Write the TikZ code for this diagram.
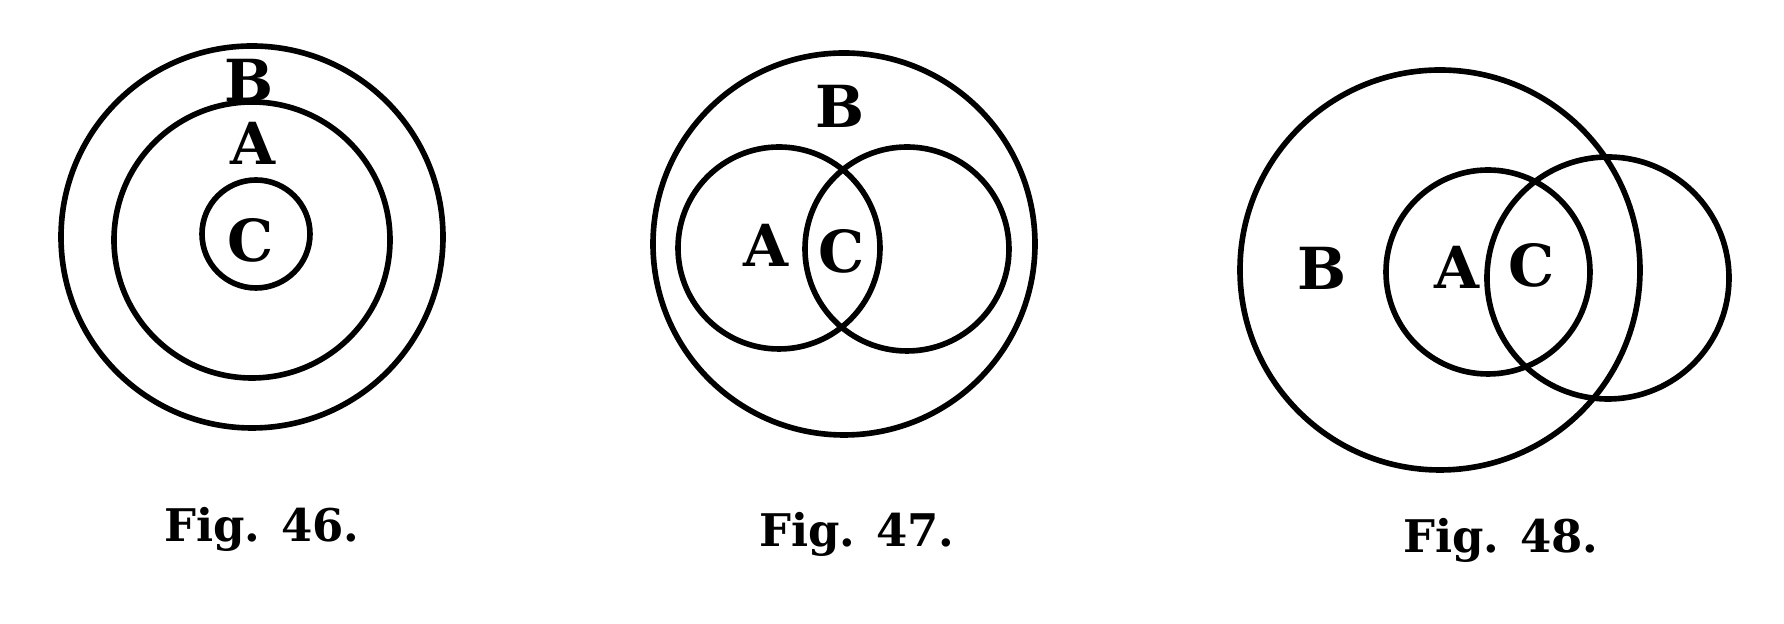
\documentclass[tikz,border=0pt]{standalone}
\usepackage{fontspec}
\newfontfamily\clarfont{DejaVu Serif}
\begin{document}
\tikzset{
  ring/.style={line width=1.6pt, line cap=round},
  lbl/.style={font=\clarfont\bfseries\fontsize{16.5}{16.5}\selectfont, inner sep=0pt},
  figcap/.style={font=\clarfont\bfseries\fontsize{12.8}{12.8}\selectfont, inner sep=0pt, anchor=base}
}
\begin{tikzpicture}[x=0.1mm,y=-0.1mm]
\useasboundingbox (0,0) rectangle (1784,624);
% ---------- Fig. 46 ----------
\coordinate (o46) at (252,237);
\coordinate (m46) at (252,240);
\coordinate (s46) at (256,234);
\draw[ring] (o46) circle[radius=191];
\draw[ring] (m46) circle[radius=138];
\draw[ring] (s46) circle[radius=54];
\node[lbl] (B46) at (249,80) {B};
\node[lbl] (A46) at (253,143) {A};
\node[lbl] (C46) at (251,240) {C};
\node[figcap] (F46) at (262,542) {Fig. 46.};
% ---------- Fig. 47 ----------
\coordinate (o47) at (844,244);
\coordinate (l47) at (779,248);
\coordinate (r47) at (907,249);
\draw[ring] (o47) circle[radius=191];
\draw[ring] (l47) circle[radius=101];
\draw[ring] (r47) circle[radius=102];
\node[lbl] (B47) at (840,106) {B};
\node[lbl] (A47) at (766,245) {A};
\node[lbl] (C47) at (842,251) {C};
\node[figcap] (F47) at (857,547) {Fig. 47.};
% ---------- Fig. 48 ----------
\coordinate (o48) at (1440,270);
\coordinate (l48) at (1488,272);
\coordinate (r48) at (1608,278);
\draw[ring] (o48) circle[radius=200];
\draw[ring] (l48) circle[radius=102];
\draw[ring] (r48) circle[radius=121];
\node[lbl] (B48) at (1322,268) {B};
\node[lbl] (A48) at (1457,267) {A};
\node[lbl] (C48) at (1532,265) {C};
\node[figcap] (F48) at (1501,553) {Fig. 48.};
\end{tikzpicture}
\end{document}
